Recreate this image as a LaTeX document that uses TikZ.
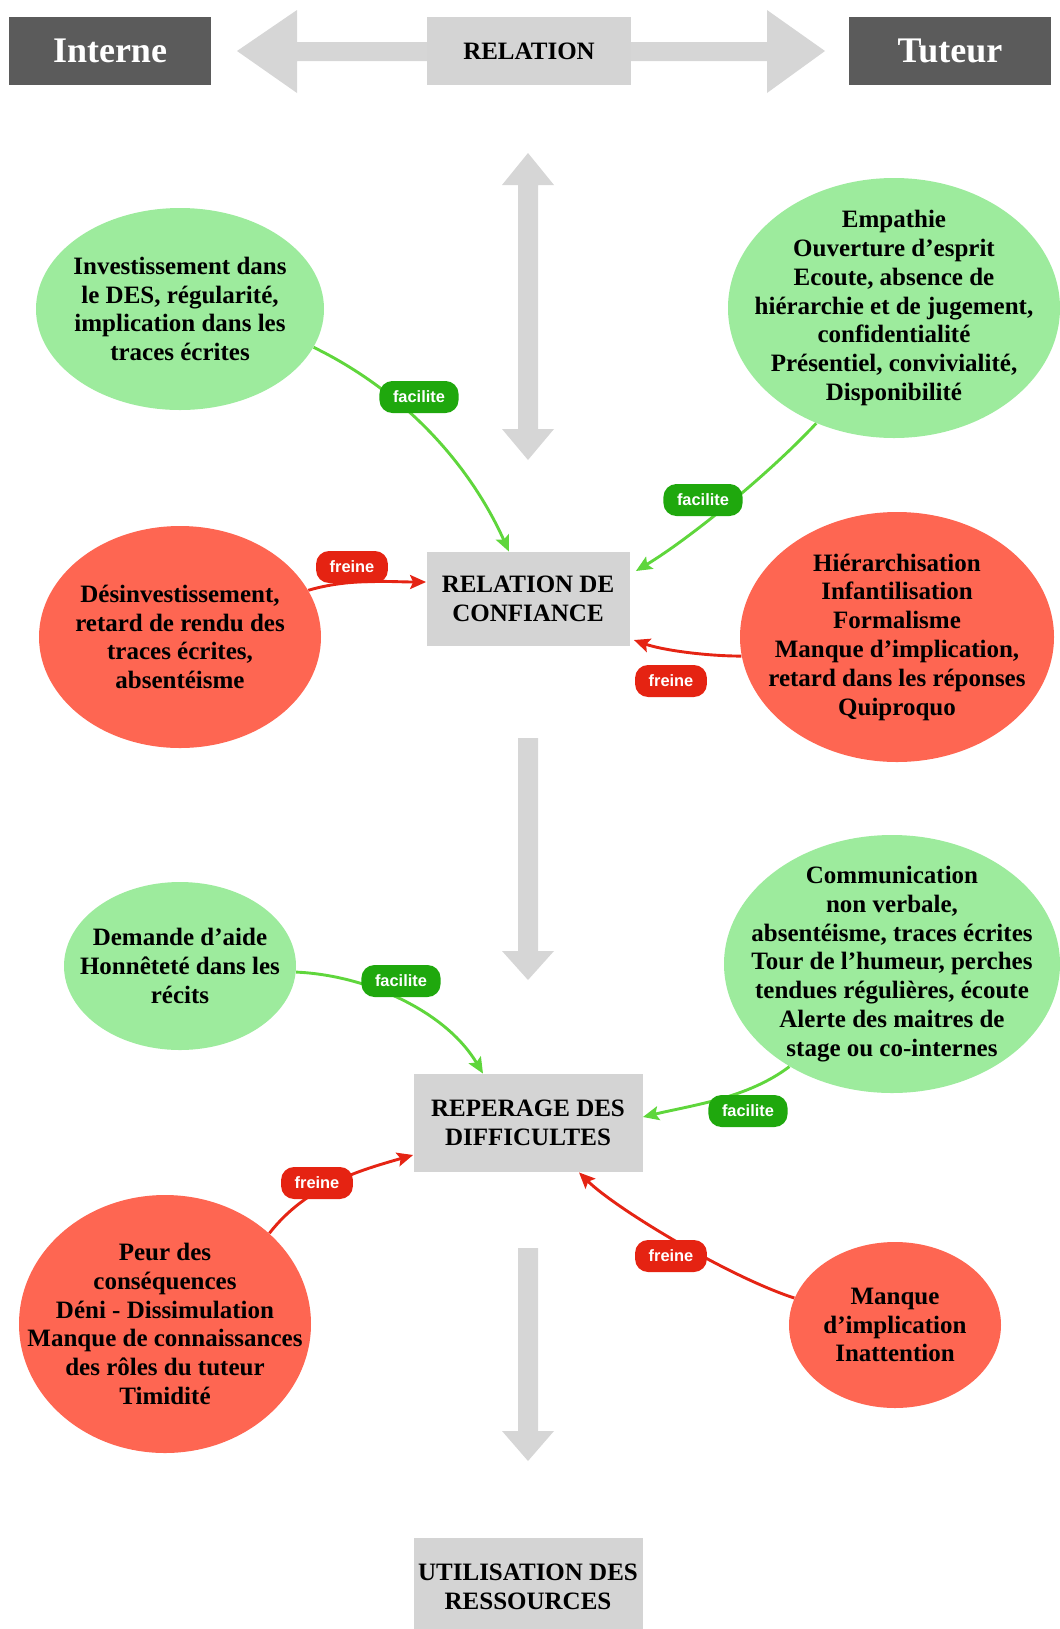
\documentclass[tikz,border=0pt]{standalone}
\usepackage{fontspec}
\setmainfont{Liberation Serif}
\setsansfont{Liberation Sans}
\usetikzlibrary{arrows.meta,shapes.geometric}
\definecolor{ellgreen}{HTML}{9DEB9D}
\definecolor{ellred}{HTML}{FE6652}
\definecolor{boxgray}{HTML}{D4D4D4}
\definecolor{arrgray}{HTML}{D6D6D6}
\definecolor{darkgrayc}{HTML}{5B5B5B}
\definecolor{linegreen}{HTML}{5FD63C}
\definecolor{pillgreen}{HTML}{1FA80D}
\definecolor{linered}{HTML}{E52414}
\definecolor{pillred}{HTML}{E52312}
\begin{document}
\begin{tikzpicture}[x=0.5pt,y=-0.5pt,
  ellg/.style={ellipse, fill=ellgreen, draw=none, inner sep=0pt},
  ellr/.style={ellipse, fill=ellred, draw=none, inner sep=0pt},
  etext/.style={align=center, font=\bfseries\fontsize{12.5}{14.4}\selectfont, inner sep=0pt},
  graybox/.style={rectangle, fill=boxgray, align=center, font=\bfseries\fontsize{12.5}{14.4}\selectfont, inner sep=0pt},
  headbox/.style={rectangle, fill=darkgrayc, text=white, font=\bfseries\fontsize{18}{20}\selectfont, minimum width=101pt, minimum height=34pt, inner sep=0pt},
  pill/.style={rectangle, rounded corners=6.5pt, minimum height=16pt, text=white, font=\sffamily\bfseries\fontsize{8.2}{9.5}\selectfont, inner xsep=6.8pt, inner ysep=0pt},
  facpill/.style={pill, fill=pillgreen},
  frepill/.style={pill, fill=pillred},
  fac/.style={draw=linegreen, line width=1.45pt, -{Stealth[length=8pt,width=7pt,inset=1.5pt]}},
  fre/.style={draw=linered, line width=1.45pt, -{Stealth[length=8pt,width=7pt,inset=1.5pt]}},
  bigarrow/.style={fill=arrgray, draw=none}
]
\useasboundingbox (0,0) rectangle (1060,1629);

% big gray arrows
\fill[bigarrow] (237,51) -- (297,10) -- (297,42) -- (767,42) -- (767,10) -- (825,51)
  -- (767,93) -- (767,61) -- (297,61) -- (297,93) -- cycle;
\fill[bigarrow] (528,153) -- (554,185) -- (538,185) -- (538,429) -- (554,429) -- (528,460)
  -- (502,429) -- (518,429) -- (518,185) -- (502,185) -- cycle;
\fill[bigarrow] (518,738) -- (538,738) -- (538,951) -- (554,951) -- (528,980)
  -- (502,951) -- (518,951) -- cycle;
\fill[bigarrow] (518,1248) -- (538,1248) -- (538,1431) -- (554,1431) -- (528,1461)
  -- (502,1431) -- (518,1431) -- cycle;

% top row
\node[headbox] (interne) at (110,51) {Interne};
\node[headbox] (tuteur) at (950,51) {Tuteur};
\node[graybox, minimum width=102pt, minimum height=34pt] (rel) at (529,51) {RELATION};

% central boxes
\node[graybox, minimum width=101.5pt, minimum height=47pt] (rc) at (528,599) {RELATION DE\\CONFIANCE};
\node[graybox, minimum width=114.5pt, minimum height=49pt] (rp) at (528,1123) {REPERAGE DES\\DIFFICULTES};
\node[graybox, minimum width=114.5pt, minimum height=49pt] (ru) at (528,1587) {UTILISATION DES\\RESSOURCES};

% ellipses
\node[ellg, minimum width=144pt, minimum height=101pt] (e1) at (180,309) {};
\node[etext] (e1t) at (e1) {Investissement dans\\le DES, régularité,\\implication dans les\\traces écrites};
\node[ellg, minimum width=166pt, minimum height=130pt] (e2) at (894,308) {};
\node[etext] (e2t) at (e2) {Empathie\\Ouverture d’esprit\\Ecoute, absence de\\hiérarchie et de jugement,\\confidentialité\\Présentiel, convivialité,\\Disponibilité};
\node[ellr, minimum width=141pt, minimum height=111pt] (e3) at (180,637) {};
\node[etext] (e3t) at (e3) {Désinvestissement,\\retard de rendu des\\traces écrites,\\absentéisme};
\node[ellr, minimum width=157pt, minimum height=125pt] (e4) at (897,637) {};
\node[etext] (e4t) at (e4) {Hiérarchisation\\Infantilisation\\Formalisme\\Manque d’implication,\\retard dans les réponses\\Quiproquo};
\node[ellg, minimum width=116pt, minimum height=84pt] (e5) at (180,966) {};
\node[etext] (e5t) at (e5) {Demande d’aide\\Honnêteté dans les\\récits};
\node[ellg, minimum width=168pt, minimum height=129pt] (e6) at (892,964) {};
\node[etext] (e6t) at (e6) {Communication\\non verbale,\\absentéisme, traces écrites\\Tour de l’humeur, perches\\tendues régulières, écoute\\Alerte des maitres de\\stage ou co-internes};
\node[ellr, minimum width=146pt, minimum height=129pt] (e7) at (165,1324) {};
\node[etext] (e7t) at (e7) {Peur des\\conséquences\\Déni - Dissimulation\\Manque de connaissances\\des rôles du tuteur\\Timidité};
\node[ellr, minimum width=106pt, minimum height=83pt] (e8) at (895,1325) {};
\node[etext] (e8t) at (e8) {Manque\\d’implication\\Inattention};

% connectors
\draw[fac] (e1.-16.5) .. controls (405,392) and (470,465) .. ([xshift=-9.5pt]rc.north);
\draw[fac] (e2.-124) .. controls (769,474) and (689,539) .. ([xshift=3pt,yshift=14pt]rc.east);
\draw[fre] (e3.20) .. controls (350,578) and (390,582) .. ([yshift=8.5pt]rc.west);
\draw[fre] (e4.187) .. controls (705,656) and (662,650) .. ([xshift=2pt,yshift=-20.5pt]rc.east);
\draw[fac] (e5.-3) .. controls (365,975) and (445,1010) .. ([xshift=-22.5pt]rp.north);
\draw[fac] (e6.-135) .. controls (748,1098) and (693,1105) .. ([yshift=3pt]rp.east);
\draw[fre] (e7.41) .. controls (307,1185) and (361,1170) .. ([yshift=-16pt]rp.west);
\draw[fre] (e8.165) .. controls (727,1276) and (615,1208) .. ([xshift=25.5pt]rp.south);

% labels
\node[facpill] (l1) at (419,397) {facilite};
\node[facpill] (l2) at (703,500) {facilite};
\node[frepill] (l3) at (352,567) {freine};
\node[frepill] (l4) at (671,681) {freine};
\node[facpill] (l5) at (401,981) {facilite};
\node[facpill] (l6) at (748,1111) {facilite};
\node[frepill] (l7) at (317,1183) {freine};
\node[frepill] (l8) at (671,1256) {freine};
\end{tikzpicture}
\end{document}
